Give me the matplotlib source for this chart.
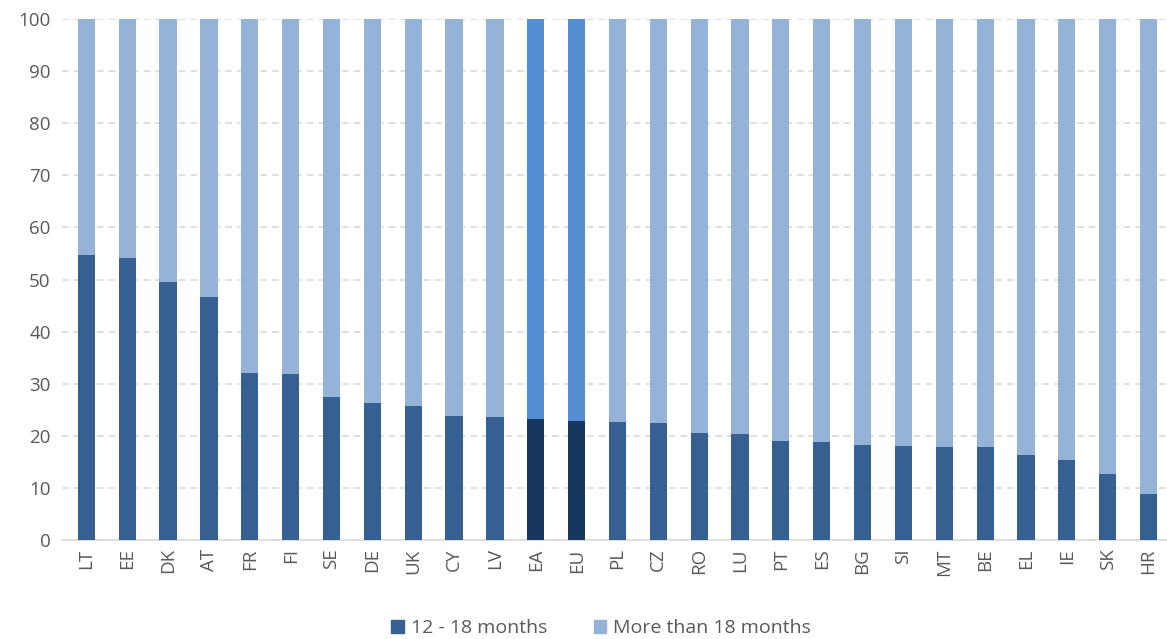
import matplotlib
matplotlib.use("Agg")
import matplotlib.pyplot as plt
from matplotlib.patches import Patch

plt.rcParams['font.family'] = ['Open Sans', 'DejaVu Sans']

categories = ["LT", "EE", "DK", "AT", "FR", "FI", "SE", "DE", "UK", "CY", "LV", "EA", "EU",
              "PL", "CZ", "RO", "LU", "PT", "ES", "BG", "SI", "MT", "BE", "EL", "IE", "SK", "HR"]
short_term = [54.7, 54.1, 49.5, 46.6, 32.1, 31.8, 27.4, 26.3, 25.7, 23.8, 23.7, 23.2, 22.9,
              22.7, 22.5, 20.5, 20.3, 19.0, 18.8, 18.3, 18.0, 17.8, 17.8, 16.3, 15.4, 12.6, 8.9]
long_term = [100 - v for v in short_term]
legend_labels = ["12 - 18 months", "More than 18 months"]

dark = "#366092"
light = "#95B3D7"
dark_hl = "#17375E"
light_hl = "#558ED5"
highlight = {"EA", "EU"}

fig = plt.figure(figsize=(11.67, 6.39), dpi=100)
ax = fig.add_axes([0.053, 0.155, 0.947, 0.815])

x = list(range(len(categories)))
c1 = [dark_hl if c in highlight else dark for c in categories]
c2 = [light_hl if c in highlight else light for c in categories]
ax.bar(x, short_term, width=0.42, color=c1, zorder=3)
ax.bar(x, long_term, bottom=short_term, width=0.42, color=c2, zorder=3)

ax.set_ylim(0, 100)
ax.set_xlim(-0.6, 26.45)
ax.set_yticks(range(0, 101, 10))
ax.set_xticks(x)
ax.set_xticklabels(categories, rotation=90)
ax.tick_params(axis='both', length=0, labelsize=13.5, colors="#595959")
ax.tick_params(axis='y', pad=8)
ax.tick_params(axis='x', pad=6)
ax.yaxis.grid(True, color="#D9D9D9", linestyle=(0, (4, 3)), linewidth=1.2, zorder=0)
for s in ["top", "right", "left"]:
    ax.spines[s].set_visible(False)
ax.spines["bottom"].set_color("#D9D9D9")
ax.spines["bottom"].set_linewidth(1.2)

handles = [Patch(color=dark), Patch(color=light)]
fig.legend(handles, legend_labels, loc="lower center", bbox_to_anchor=(0.515, -0.025),
           ncol=2, frameon=False, fontsize=14, handlelength=0.65, handleheight=0.65,
           handletextpad=0.35, columnspacing=2.4, labelcolor="#595959")

fig.savefig("out.png", dpi=100)
